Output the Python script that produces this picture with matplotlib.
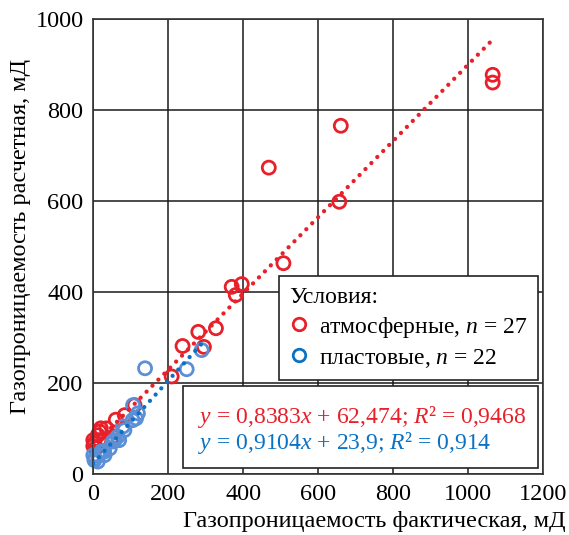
import numpy as np
import matplotlib
matplotlib.use("Agg")
import matplotlib.pyplot as plt
from matplotlib.lines import Line2D
from matplotlib.patches import Rectangle

plt.rcParams['font.family'] = ['Liberation Serif', 'DejaVu Serif']
plt.rcParams['mathtext.fontset'] = 'custom'
plt.rcParams['mathtext.rm'] = 'Liberation Serif'
plt.rcParams['mathtext.it'] = 'Liberation Serif:italic'

# атмосферные условия
atm_x = [1065, 1065, 660, 468, 656, 507, 369, 396, 380, 327, 280, 238, 295, 209,
         110, 84, 60, 53, 35, 20, 17, 12, 16, 3, 0, 7, 0]
atm_y = [878, 861, 766, 674, 599, 464, 412, 418, 394, 321, 313, 282, 280, 215,
         152, 130, 120, 83, 101, 101, 94, 86, 75, 68, 75, 58, 62]

# пластовые условия
pl_x = [138, 249, 289, 106, 119, 114, 105, 79, 83, 65, 69, 57, 52, 44, 29, 21,
        30, 12, 4, 3, 12, 0]
pl_y = [233, 231, 273, 152, 134, 123, 119, 105, 97, 83, 75, 75, 72, 57, 50, 50,
        42, 42, 35, 31, 28, 42]

# коэффициенты линейных трендов
atm_k, atm_b, atm_r2 = 0.8383, 62.474, 0.9468
pl_k, pl_b, pl_r2 = 0.9104, 23.9, 0.914

red = '#e8202a'
blue = '#0a72c4'
blue_light = '#5b8fd6'
fs = 17.5

fig = plt.figure(figsize=(5.69, 5.35), dpi=100)
ax = fig.add_axes([93.3 / 569, 60.7 / 535, 450 / 569, 455 / 535])

ax.scatter(atm_x, atm_y, s=88, facecolors='none', edgecolors=red, linewidths=2,
           zorder=2, clip_on=False)
ax.scatter(pl_x, pl_y, s=88, facecolors='none', edgecolors=blue_light, linewidths=2,
           zorder=2, clip_on=False)

# линии тренда точками
for xs, k, b, c in [(atm_x, atm_k, atm_b, red), (pl_x, pl_k, pl_b, blue)]:
    tx = np.array([min(xs), max(xs)])
    ax.plot(tx, k * tx + b, color=c, lw=3.1, linestyle=(0, (0.01, 1.95)),
            dash_capstyle='round', zorder=3)

ax.set_xlim(0, 1200)
ax.set_ylim(0, 1000)
ax.set_xticks(np.arange(0, 1201, 200))
ax.set_yticks(np.arange(0, 1001, 200))
ax.tick_params(length=0, labelsize=fs, pad=7)
ax.grid(True, color='#1a1a1a', lw=1.1)
ax.set_axisbelow(True)
for sp in ax.spines.values():
    sp.set_color('#333333')
    sp.set_linewidth(1.2)

fig.text(566 / 569, 1 - 521 / 535, 'Газопроницаемость фактическая, мД',
         ha='right', va='center', fontsize=fs)
fig.text(21 / 569, 1 - 236 / 535, 'Газопроницаемость расчетная, мД',
         ha='center', va='center', rotation=90, fontsize=fs)

handles = [
    Line2D([], [], ls='none', marker='o', ms=9, mfc='none', mec=red, mew=2),
    Line2D([], [], ls='none', marker='o', ms=9, mfc='none', mec=blue, mew=2),
]
labels = [f'атмосферные, $n$ = {len(atm_x)}', f'пластовые, $n$ = {len(pl_x)}']
leg = ax.legend(handles, labels, title='Условия:', loc='upper right',
                bbox_to_anchor=(0.988, 0.436), borderaxespad=0, fontsize=17,
                title_fontsize=17, alignment='left', fancybox=False,
                edgecolor='#222222', framealpha=1, handlelength=0.8,
                handletextpad=0.45, labelspacing=0.3, borderpad=0.45)
leg.get_frame().set_linewidth(1.2)

# рамка с уравнениями
ax.add_patch(Rectangle((0.199, 0.014), 0.79, 0.18, transform=ax.transAxes,
                       facecolor='white', edgecolor='#222222', lw=1.2, zorder=4))
ax.text(0.232, 0.127, f'$y$ = {atm_k:.4f}$x$ + {atm_b:.3f}; $R$² = {atm_r2:.4f}'.replace('.', ','),
        transform=ax.transAxes, color=red, fontsize=17, va='center', zorder=5)
ax.text(0.232, 0.069, f'$y$ = {pl_k:.4f}$x$ + {pl_b:.1f}; $R$² = {pl_r2:.3f}'.replace('.', ','),
        transform=ax.transAxes, color=blue, fontsize=17, va='center', zorder=5)

fig.savefig('out.png', dpi=100)
